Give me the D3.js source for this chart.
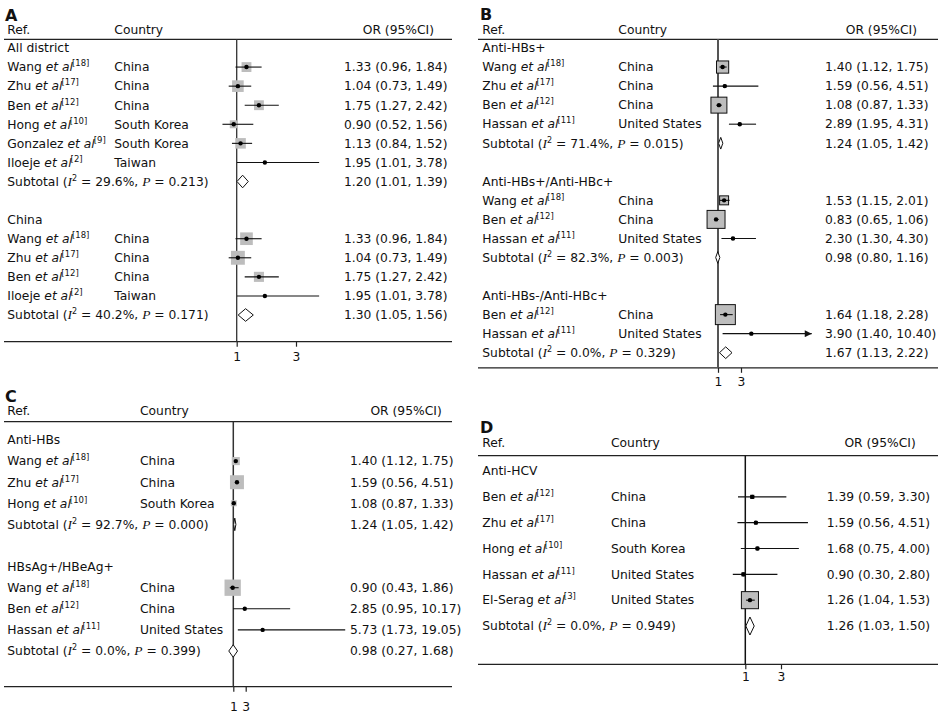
<!DOCTYPE html>
<html>
<head>
<meta charset="utf-8">
<script src="https://cdn.jsdelivr.net/npm/d3@7"></script>
<style>
  html, body { margin: 0; padding: 0; background: #fff; }
  svg { display: block; }
  text { font-family: "DejaVu Sans", Verdana, sans-serif; font-size: 12.3px; fill: #111; }
</style>
</head>
<body>
<svg id="chart" width="945" height="726"></svg>
<script>
// ---------------- DATA ----------------
// Panel A
const A_groups = ["All district", "China"];
const A_group = [0, 0, 0, 0, 0, 0, 1, 1, 1, 1];
const A_study = ["Wang", "Zhu", "Ben", "Hong", "Gonzalez", "Iloeje", "Wang", "Zhu", "Ben", "Iloeje"];
const A_refNo = [18, 17, 12, 10, 9, 2, 18, 17, 12, 2];
const A_country = ["China", "China", "China", "South Korea", "South Korea", "Taiwan", "China", "China", "China", "Taiwan"];
const A_or = [1.33, 1.04, 1.75, 0.90, 1.13, 1.95, 1.33, 1.04, 1.75, 1.95];
const A_lo = [0.96, 0.73, 1.27, 0.52, 0.84, 1.01, 0.96, 0.73, 1.27, 1.01];
const A_hi = [1.84, 1.49, 2.42, 1.56, 1.52, 3.78, 1.84, 1.49, 2.42, 3.78];
const A_weight = [20, 28, 20, 13, 23, 1, 33, 40, 21, 1];
const A_subI2 = ["29.6%", "40.2%"];
const A_subP = ["0.213", "0.171"];
const A_subOr = [1.20, 1.30];
const A_subLo = [1.01, 1.05];
const A_subHi = [1.39, 1.56];

// Panel B
const B_groups = ["Anti-HBs+", "Anti-HBs+/Anti-HBc+", "Anti-HBs-/Anti-HBc+"];
const B_group = [0, 0, 0, 0, 1, 1, 1, 2, 2];
const B_study = ["Wang", "Zhu", "Ben", "Hassan", "Wang", "Ben", "Hassan", "Ben", "Hassan"];
const B_refNo = [18, 17, 12, 11, 18, 12, 11, 12, 11];
const B_country = ["China", "China", "China", "United States", "China", "China", "United States", "China", "United States"];
const B_or = [1.40, 1.59, 1.08, 2.89, 1.53, 0.83, 2.30, 1.64, 3.90];
const B_lo = [1.12, 0.56, 0.87, 1.95, 1.15, 0.65, 1.30, 1.18, 1.40];
const B_hi = [1.75, 4.51, 1.33, 4.31, 2.01, 1.06, 4.30, 2.28, 10.40];
const B_weight = [35, 1, 60, 1, 19, 76, 1, 94, 1];
const B_subI2 = ["71.4%", "82.3%", "0.0%"];
const B_subP = ["0.015", "0.003", "0.329"];
const B_subOr = [1.24, 0.98, 1.67];
const B_subLo = [1.05, 0.80, 1.13];
const B_subHi = [1.42, 1.16, 2.22];

// Panel C
const C_groups = ["Anti-HBs", "HBsAg+/HBeAg+"];
const C_group = [0, 0, 0, 1, 1, 1];
const C_study = ["Wang", "Zhu", "Hong", "Wang", "Ben", "Hassan"];
const C_refNo = [18, 17, 10, 18, 12, 11];
const C_country = ["China", "China", "South Korea", "China", "China", "United States"];
const C_or = [1.40, 1.59, 1.08, 0.90, 2.85, 5.73];
const C_lo = [1.12, 0.56, 0.87, 0.43, 0.95, 1.73];
const C_hi = [1.75, 4.51, 1.33, 1.86, 10.17, 19.05];
const C_weight = [22, 66, 12, 90, 1, 1];
const C_subI2 = ["92.7%", "0.0%"];
const C_subP = ["0.000", "0.399"];
const C_subOr = [1.24, 0.98];
const C_subLo = [1.05, 0.27];
const C_subHi = [1.42, 1.68];

// Panel D
const D_groups = ["Anti-HCV"];
const D_group = [0, 0, 0, 0, 0];
const D_study = ["Ben", "Zhu", "Hong", "Hassan", "El-Serag"];
const D_refNo = [12, 17, 10, 11, 3];
const D_country = ["China", "China", "South Korea", "United States", "United States"];
const D_or = [1.39, 1.59, 1.68, 0.90, 1.26];
const D_lo = [0.59, 0.56, 0.75, 0.30, 1.04];
const D_hi = [3.30, 4.51, 4.00, 2.80, 1.53];
const D_weight = [3, 2, 2, 3, 90];
const D_subI2 = ["0.0%"];
const D_subP = ["0.949"];
const D_subOr = [1.26];
const D_subLo = [1.03];
const D_subHi = [1.50];

const tickValues = [1, 3];
const headers = ["Ref.", "Country", "OR (95%CI)"];

// ---------------- BUILD ----------------
function buildRows(groups, gIdx, study, refNo, country, or, lo, hi, w, sI2, sP, sOr, sLo, sHi) {
  const rows = [];
  groups.forEach((gname, gi) => {
    if (gi > 0) rows.push({ type: "blank" });
    rows.push({ type: "group", label: gname });
    gIdx.forEach((g, i) => {
      if (g === gi) rows.push({ type: "study", group: gname, study: study[i], ref: refNo[i], country: country[i], or: or[i], lo: lo[i], hi: hi[i], w: w[i] });
    });
    rows.push({ type: "sub", group: gname, i2: sI2[gi], p: sP[gi], or: sOr[gi], lo: sLo[gi], hi: sHi[gi] });
  });
  return rows;
}

const panels = [
  { id: "A", rows: buildRows(A_groups, A_group, A_study, A_refNo, A_country, A_or, A_lo, A_hi, A_weight, A_subI2, A_subP, A_subOr, A_subLo, A_subHi),
    x0: 4, x1: 452, labelX: 5, labelY: 15, headY: 29.5, headLine: 39.3, axisY: 341.7,
    row0: 48, rowLast: 315, refX: 7.3, countryX: 114.3, valueX: 344, orRight: 434,
    px1: 236.7, px3: 296, tickGap: 11, sMax: 22, diamondH: 12.6,
    boxStroke: null, vColor: "#333", vWidth: 1.3, hideCI: [], clipMax: null },
  { id: "B", rows: buildRows(B_groups, B_group, B_study, B_refNo, B_country, B_or, B_lo, B_hi, B_weight, B_subI2, B_subP, B_subOr, B_subLo, B_subHi),
    x0: 478, x1: 938, labelX: 480, labelY: 14, headY: 29.5, headLine: 39.3, axisY: 367.8,
    row0: 48, rowLast: 352.7, refX: 482.3, countryX: 618.3, valueX: 825, orRight: 917,
    px1: 718, px3: 741, tickGap: 9, sMax: 20.6, diamondH: 11.7,
    boxStroke: "#111", vColor: "#555", vWidth: 2, hideCI: [], clipMax: 9.15 },
  { id: "C", rows: buildRows(C_groups, C_group, C_study, C_refNo, C_country, C_or, C_lo, C_hi, C_weight, C_subI2, C_subP, C_subOr, C_subLo, C_subHi),
    x0: 4, x1: 452, labelX: 5, labelY: 396, headY: 411, headLine: 421.7, axisY: 686.7,
    row0: 440, rowLast: 651, refX: 7.3, countryX: 140, valueX: 350, orRight: 441.7,
    px1: 233.3, px3: 245.7, tickGap: 16, sMax: 17.2, diamondH: 12.5,
    boxStroke: null, vColor: "#333", vWidth: 1.5, hideCI: ["Anti-HBs"], clipMax: null },
  { id: "D", rows: buildRows(D_groups, D_group, D_study, D_refNo, D_country, D_or, D_lo, D_hi, D_weight, D_subI2, D_subP, D_subOr, D_subLo, D_subHi),
    x0: 478, x1: 938, labelX: 480, labelY: 427.5, headY: 443, headLine: 455.7, axisY: 664.3,
    row0: 471, rowLast: 626, refX: 482.3, countryX: 611, valueX: 826.7, orRight: 915.7,
    px1: 745.3, px3: 781, tickGap: 7.5, sMax: 18, diamondH: 18,
    boxStroke: "#111", vColor: "#111", vWidth: 1.5, hideCI: [], clipMax: null }
];

const svg = d3.select("#chart");
const fmt = d3.format(".2f");

svg.append("defs").append("marker")
  .attr("id", "arrow").attr("viewBox", "0 0 10 10").attr("refX", 10).attr("refY", 5)
  .attr("markerWidth", 9).attr("markerHeight", 7).attr("markerUnits", "userSpaceOnUse")
  .attr("orient", "auto")
  .append("path").attr("d", "M0,0 L10,5 L0,10 Z").attr("fill", "#111");

panels.forEach(p => {
  const g = svg.append("g").attr("class", "panel-" + p.id);
  const x = d3.scaleLinear().domain([tickValues[0], tickValues[1]]).range([p.px1, p.px3]);
  const y = d3.scalePoint().domain(d3.range(p.rows.length)).range([p.row0, p.rowLast]);
  const size = d3.scaleSqrt().domain([0, 100]).range([0, p.sMax]);

  // panel letter
  g.append("text").attr("x", p.labelX).attr("y", p.labelY).attr("dy", "0.36em")
    .style("font-size", "16px").style("font-weight", "bold").text(p.id);

  // header texts
  g.append("text").attr("x", p.refX).attr("y", p.headY).attr("dy", "0.35em").text(headers[0]);
  g.append("text").attr("x", p.countryX).attr("y", p.headY).attr("dy", "0.35em").text(headers[1]);
  g.append("text").attr("x", p.orRight).attr("y", p.headY).attr("dy", "0.35em").attr("text-anchor", "end").text(headers[2]);

  // header & axis lines
  [p.headLine, p.axisY].forEach(yy => {
    g.append("line").attr("x1", p.x0).attr("x2", p.x1).attr("y1", yy).attr("y2", yy)
      .attr("stroke", "#222").attr("stroke-width", 1.3);
  });

  // null line
  g.append("line").attr("x1", x(1)).attr("x2", x(1)).attr("y1", p.headLine).attr("y2", p.axisY)
    .attr("stroke", p.vColor).attr("stroke-width", p.vWidth);

  // axis ticks
  const ax = g.append("g").attr("transform", `translate(0,${p.axisY})`)
    .call(d3.axisBottom(x).tickValues(tickValues).tickSize(5).tickPadding(p.tickGap - 5).tickFormat(d3.format("d")));
  ax.select(".domain").remove();
  ax.selectAll(".tick line").attr("stroke", "#222").attr("stroke-width", 1.2);
  ax.selectAll(".tick text").attr("fill", "#111")
    .style("font-family", '"DejaVu Sans", Verdana, sans-serif').style("font-size", "12.3px");

  // rows
  p.rows.forEach((r, i) => {
    const yy = y(i);
    if (r.type === "group") {
      g.append("text").attr("x", p.refX).attr("y", yy).attr("dy", "0.35em").text(r.label);
    } else if (r.type === "study") {
      const t = g.append("text").attr("x", p.refX).attr("y", yy).attr("dy", "0.35em");
      t.append("tspan").text(r.study + " ");
      t.append("tspan").style("font-style", "italic").text("et al");
      t.append("tspan").style("font-size", "8.5px").attr("dx", -1).attr("dy", -5).text("[" + r.ref + "]");
      g.append("text").attr("x", p.countryX).attr("y", yy).attr("dy", "0.35em").text(r.country);
      g.append("text").attr("x", p.valueX).attr("y", yy).attr("dy", "0.35em")
        .text(`${fmt(r.or)} (${fmt(r.lo)}, ${fmt(r.hi)})`);

      // box
      const s = size(r.w);
      g.append("rect").attr("x", x(r.or) - s / 2).attr("y", yy - s / 2).attr("width", s).attr("height", s)
        .attr("fill", "#bdbdbd")
        .attr("stroke", p.boxStroke ? p.boxStroke : "none").attr("stroke-width", p.boxStroke ? 1 : 0);
      // whisker
      if (!p.hideCI.includes(r.group)) {
        const clipped = p.clipMax !== null && r.hi > p.clipMax;
        const hiV = clipped ? p.clipMax : r.hi;
        const ln = g.append("line").attr("x1", x(r.lo)).attr("x2", x(hiV)).attr("y1", yy).attr("y2", yy)
          .attr("stroke", "#111").attr("stroke-width", 1.1);
        if (clipped) ln.attr("marker-end", "url(#arrow)");
      }
      // point
      g.append("circle").attr("cx", x(r.or)).attr("cy", yy).attr("r", 2.2).attr("fill", "#000");
    } else if (r.type === "sub") {
      const t = g.append("text").attr("x", p.refX).attr("y", yy).attr("dy", "0.35em");
      t.append("tspan").text("Subtotal (");
      t.append("tspan").style("font-family", '"Liberation Serif", serif').style("font-style", "italic").style("font-size", "13.5px").text("I");
      t.append("tspan").style("font-size", "8px").attr("dy", -5).text("2");
      t.append("tspan").attr("dy", 5).text(" = " + r.i2 + ", ");
      t.append("tspan").style("font-family", '"Liberation Serif", serif').style("font-style", "italic").style("font-size", "13.5px").text("P");
      t.append("tspan").text(" = " + r.p + ")");
      g.append("text").attr("x", p.valueX).attr("y", yy).attr("dy", "0.35em")
        .text(`${fmt(r.or)} (${fmt(r.lo)}, ${fmt(r.hi)})`);
      const h = p.diamondH / 2;
      const pts = [[x(r.lo), yy], [x(r.or), yy - h], [x(r.hi), yy], [x(r.or), yy + h]];
      g.append("path").attr("d", d3.line()(pts) + "Z")
        .attr("fill", "#fff").attr("stroke", "#111").attr("stroke-width", 1);
    }
  });
});
</script>
</body>
</html>
